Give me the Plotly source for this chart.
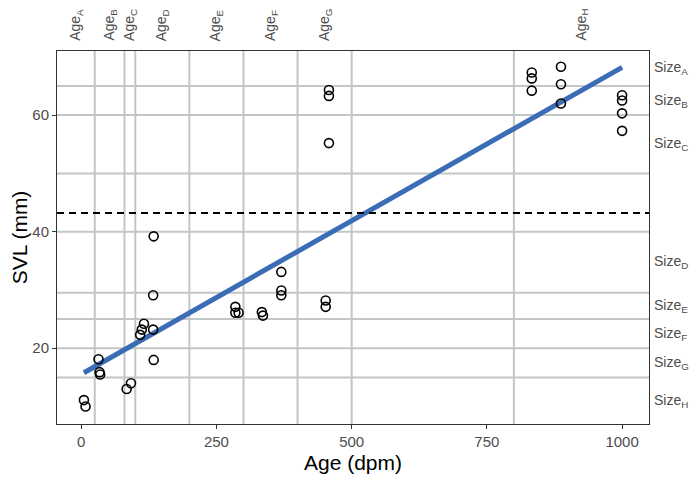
import plotly.graph_objects as go

# ---- data ----
age = [5, 8, 32, 34, 35, 84, 92, 109, 112, 116, 133, 133, 134, 134,
       285, 285, 291, 334, 336, 370, 370, 370, 452, 452,
       458, 458, 458, 833, 833, 833, 887, 887, 887, 1000, 1000, 1000, 1000]
svl = [11.1, 10.0, 18.1, 15.9, 15.5, 13.0, 14.0, 22.3, 23.2, 24.2, 23.2, 29.1, 39.2, 18.0,
       27.1, 26.1, 26.1, 26.2, 25.6, 33.1, 29.9, 29.1, 28.2, 27.1,
       64.3, 63.3, 55.2, 67.3, 66.3, 64.2, 68.3, 65.3, 62.0, 63.4, 62.5, 60.3, 57.3]

fit_x = [5, 1000]
fit_y = [15.8, 68.2]

threshold_svl = 43.2

age_breaks = [25, 80, 100, 200, 300, 400, 500, 800]
size_breaks = [65, 60, 50, 40, 29.5, 25, 20, 15]

age_label_text = ["A", "B", "C", "D", "E", "F", "G", "H"]
age_label_x = [-10, 52.5, 90, 150, 250, 350, 450, 925]
size_label_text = ["A", "B", "C", "D", "E", "F", "G", "H"]
size_label_y = [68, 62.5, 55, 34.75, 27.25, 22.5, 17.5, 11]

x_ticks = [0, 250, 500, 750, 1000]
y_ticks = [20, 40, 60]
x_range = [-44.75, 1049.75]
y_range = [7.0, 71.0]

FONT = "Liberation Sans, Arial, sans-serif"
GRID = "#C2C6C6"
TXT = "#4D4D4D"

fig = go.Figure()

fig.add_trace(go.Scatter(
    x=fit_x, y=fit_y, mode="lines",
    line=dict(color="#3A6DB6", width=5), showlegend=False, hoverinfo="skip"))

fig.add_trace(go.Scatter(
    x=age, y=svl, mode="markers",
    marker=dict(symbol="circle-open", size=9, color="black", line=dict(width=1.6)),
    showlegend=False))

shapes = []
for a in age_breaks:
    shapes.append(dict(type="line", xref="x", yref="paper", x0=a, x1=a, y0=0, y1=1,
                       line=dict(color=GRID, width=2), layer="below"))
for s in size_breaks:
    shapes.append(dict(type="line", xref="paper", yref="y", x0=0, x1=1, y0=s, y1=s,
                       line=dict(color=GRID, width=2), layer="below"))
shapes.append(dict(type="line", xref="paper", yref="y", x0=0, x1=1,
                   y0=threshold_svl, y1=threshold_svl,
                   line=dict(color="black", width=2, dash="7px,5px"), layer="above"))

annotations = []
for t, x in zip(age_label_text, age_label_x):
    annotations.append(dict(text=f"Age<sub>{t}</sub>", x=x, xref="x", y=1, yref="paper",
                            xanchor="center", yanchor="bottom", yshift=8, textangle=-90,
                            showarrow=False, font=dict(family=FONT, size=14, color=TXT)))
for t, y in zip(size_label_text, size_label_y):
    annotations.append(dict(text=f"Size<sub>{t}</sub>", x=1, xref="paper", y=y, yref="y",
                            xanchor="left", yanchor="middle", xshift=3,
                            showarrow=False, font=dict(family=FONT, size=14, color=TXT)))

# page body has an 8px default margin, so the figure is sized/offset to compensate
fig.update_layout(
    width=689, height=472,
    margin=dict(l=49, r=48, t=43, b=56, autoexpand=False),
    plot_bgcolor="white", paper_bgcolor="white",
    font=dict(family=FONT, color=TXT),
    shapes=shapes, annotations=annotations,
    xaxis=dict(range=x_range, tickvals=x_ticks, showgrid=False, zeroline=False,
               automargin=False,
               showline=True, mirror=True, linecolor="#333333", linewidth=1,
               ticks="outside", ticklen=4, tickcolor="#333333",
               tickfont=dict(size=15, color=TXT),
               title=dict(text="Age (dpm)", font=dict(size=21, color="black"), standoff=6)),
    yaxis=dict(range=y_range, tickvals=y_ticks, showgrid=False, zeroline=False,
               automargin=False,
               showline=True, mirror=True, linecolor="#333333", linewidth=1,
               ticks="outside", ticklen=4, tickcolor="#333333",
               tickfont=dict(size=15, color=TXT),
               title=dict(text="SVL (mm)", font=dict(size=21, color="black"), standoff=6)),
)

fig.write_html("out.html")
